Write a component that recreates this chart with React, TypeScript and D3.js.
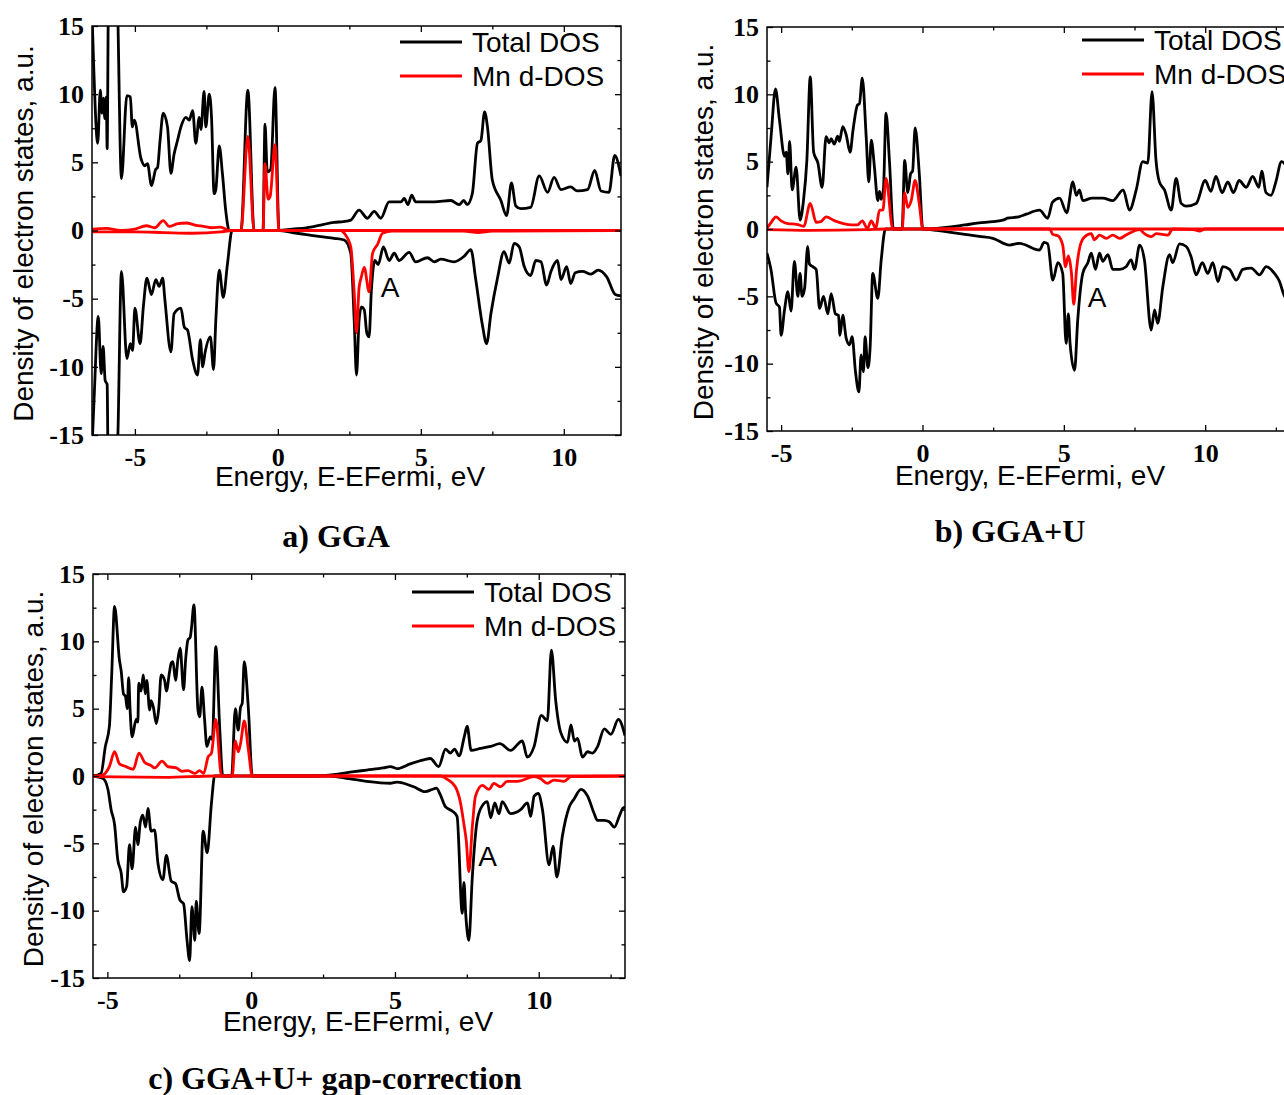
import React, { useRef, useEffect } from "react";
import * as d3 from "d3";

type Pt = [number, number];

// ---------- a) GGA ----------
const ggaTotalUp: Pt[] = [
  [-6.5, 16], [-6.44, 12], [-6.3, 6.4], [-6.21, 10.3], [-6.15, 8.6], [-6.1, 9.7], [-6.05, 8.2], [-6.0, 9.8], [-5.97, 6.0],
  [-5.92, 18], [-5.64, 18], [-5.47, 3.8], [-5.28, 9.9], [-5.16, 9.8], [-5.09, 7.6], [-5.02, 8.1], [-4.79, 5.3], [-4.65, 4.75],
  [-4.56, 4.9], [-4.42, 3.3], [-4.27, 4.5], [-4.21, 4.6], [-4.12, 6.6], [-4.01, 8.6], [-3.86, 7.6], [-3.74, 4.2], [-3.63, 5.6],
  [-3.51, 6.6], [-3.39, 7.6], [-3.22, 8.3], [-3.1, 8.1], [-2.98, 8.8], [-2.87, 6.4], [-2.75, 8.3], [-2.69, 7.4], [-2.58, 10.2],
  [-2.52, 7.6], [-2.4, 10.0], [-2.32, 8.3], [-2.23, 2.7], [-2.17, 3.0], [-2.05, 6.2], [-1.94, 4.2], [-1.82, 1.4], [-1.7, 0],
  [-1.29, 0], [-1.05, 10.3], [-0.83, 0], [-0.52, 0], [-0.45, 7.8], [-0.37, 4.3], [-0.25, 4.5], [-0.1, 10.5], [0.04, 0],
  [0.5, 0.1], [1.0, 0.2], [1.5, 0.4], [1.97, 0.6], [2.3, 0.65], [2.55, 0.76], [2.84, 1.5], [3.13, 0.9], [3.37, 1.4], [3.6, 0.9],
  [3.89, 2.1], [4.3, 2.1], [4.42, 2.35], [4.55, 1.9], [4.68, 2.6], [4.82, 2.1], [5.47, 2.1], [6.05, 2.2], [6.34, 1.9], [6.5, 2.2],
  [6.62, 1.9], [6.8, 2.7], [6.98, 6.4], [7.1, 6.6], [7.23, 8.7], [7.33, 7.6], [7.5, 3.7], [7.8, 2.2], [8.0, 1.1], [8.17, 3.5],
  [8.32, 1.8], [8.5, 1.6], [8.84, 1.7], [9.14, 4.0], [9.43, 2.8], [9.66, 3.9], [9.9, 3.0], [10.24, 3.2], [10.47, 2.9],
  [10.83, 3.0], [11.08, 4.4], [11.3, 2.9], [11.58, 2.8], [11.78, 5.5], [12.0, 4.0],
];
const ggaTotalDown: Pt[] = [
  [-6.5, -16], [-6.42, -12], [-6.28, -6.3], [-6.18, -10.5], [-6.11, -8.5], [-6.04, -11.0], [-5.97, -11.3], [-5.94, -16],
  [-5.62, -16], [-5.47, -3.0], [-5.28, -9.4], [-5.16, -8.3], [-5.08, -8.8], [-5.0, -5.7], [-4.82, -8.3], [-4.7, -5.5],
  [-4.58, -3.5], [-4.42, -4.7], [-4.27, -3.6], [-4.15, -4.1], [-4.03, -3.5], [-3.95, -5.1], [-3.74, -8.9], [-3.63, -6.1],
  [-3.39, -5.7], [-3.27, -7.1], [-3.16, -7.3], [-2.98, -9.5], [-2.81, -10.6], [-2.71, -8.0], [-2.63, -10.0], [-2.55, -9.0],
  [-2.36, -7.8], [-2.25, -10.2], [-2.17, -6.6], [-2.05, -2.9], [-1.91, -4.9], [-1.76, -2.4], [-1.6, 0], [0.05, 0],
  [0.5, -0.15], [1.0, -0.3], [1.5, -0.45], [1.97, -0.57], [2.32, -0.7], [2.55, -1.68], [2.67, -6.6], [2.75, -10.6],
  [2.84, -6.6], [2.92, -5.6], [3.02, -5.8], [3.11, -7.5], [3.19, -7.8], [3.27, -4.4], [3.39, -2.2], [3.51, -2.5], [3.69, -1.2],
  [3.89, -2.2], [4.07, -1.67], [4.24, -2.2], [4.59, -1.6], [4.82, -2.3], [5.23, -2.0], [5.47, -2.3], [5.7, -2.1], [6.16, -2.3],
  [6.51, -1.9], [6.75, -1.4], [6.92, -3.6], [7.15, -6.9], [7.3, -8.3], [7.45, -6.1], [7.68, -3.5], [7.91, -1.55], [8.09, -2.4],
  [8.26, -0.94], [8.44, -1.2], [8.61, -2.6], [8.84, -3.3], [9.02, -2.2], [9.2, -2.3], [9.4, -4.0], [9.55, -3.0], [9.78, -2.2],
  [9.9, -3.6], [10.1, -2.65], [10.24, -3.9], [10.4, -3.1], [10.65, -3.0], [10.95, -3.2], [11.2, -2.9], [11.5, -3.4],
  [11.8, -4.7], [12.0, -4.8],
];
const ggaMnUp: Pt[] = [
  [-6.5, 0.1], [-6.0, 0.15], [-5.5, 0.0], [-5.0, 0.1], [-4.6, 0.35], [-4.3, 0.2], [-4.01, 0.73], [-3.8, 0.3], [-3.5, 0.5],
  [-3.2, 0.55], [-2.9, 0.4], [-2.6, 0.3], [-2.3, 0.2], [-2.0, 0.25], [-1.7, 0], [-1.29, 0], [-1.05, 6.9], [-0.83, 0],
  [-0.52, 0], [-0.45, 4.9], [-0.34, 2.3], [-0.27, 2.5], [-0.1, 6.3], [0.04, 0], [12.0, 0],
];
const ggaMnDown: Pt[] = [
  [-6.5, -0.1], [-5.0, -0.1], [-4.0, -0.15], [-3.0, -0.2], [-2.0, -0.1], [-1.6, 0], [2.2, 0], [2.32, -0.2], [2.55, -1.2],
  [2.67, -4.6], [2.75, -7.5], [2.84, -4.2], [2.92, -3.4], [3.02, -2.7], [3.19, -4.5], [3.31, -1.7], [3.49, -1.0], [3.66, -0.2],
  [4.0, -0.05], [6.5, -0.05], [7.0, -0.15], [7.5, -0.05], [12.0, 0],
];

// ---------- b) GGA+U ----------
const ggauTotalUp: Pt[] = [
  [-5.5, 3.1], [-5.35, 7.0], [-5.2, 10.4], [-5.06, 8.1], [-4.88, 5.4], [-4.82, 5.7], [-4.76, 4.1], [-4.7, 6.5], [-4.61, 2.9],
  [-4.47, 4.6], [-4.33, 0.67], [-4.21, 2.1], [-4.09, 5.1], [-3.97, 11.3], [-3.85, 5.7], [-3.7, 4.9], [-3.55, 3.1],
  [-3.41, 6.85], [-3.3, 6.4], [-3.23, 6.7], [-3.12, 6.3], [-3.0, 6.9], [-2.94, 6.5], [-2.82, 7.6], [-2.7, 7.0], [-2.56, 5.7],
  [-2.46, 7.3], [-2.3, 9.2], [-2.23, 9.3], [-2.13, 11.2], [-1.99, 6.8], [-1.9, 3.5], [-1.81, 6.6], [-1.7, 4.6], [-1.58, 2.1],
  [-1.52, 2.8], [-1.46, 2.2], [-1.38, 3.0], [-1.29, 8.6], [-1.17, 5.1], [-1.03, 0], [-0.72, 0], [-0.63, 5.1], [-0.52, 2.7],
  [-0.42, 4.1], [-0.35, 4.3], [-0.26, 7.5], [-0.11, 4.0], [0.01, 0], [0.5, 0.05], [1.0, 0.15], [1.5, 0.3], [2.0, 0.45],
  [2.49, 0.54], [2.9, 0.7], [3.0, 0.8], [3.4, 0.9], [3.67, 1.1], [4.14, 1.4], [4.43, 0.8], [4.6, 2.0], [4.85, 2.3], [5.1, 1.2],
  [5.32, 3.5], [5.44, 2.5], [5.55, 2.9], [5.67, 2.1], [6.0, 2.3], [6.38, 2.3], [6.73, 2.1], [7.1, 2.9], [7.32, 1.4],
  [7.56, 2.9], [7.79, 5.0], [7.97, 4.9], [8.12, 10.2], [8.26, 5.1], [8.38, 3.5], [8.56, 2.9], [8.8, 1.4], [8.97, 3.76],
  [9.15, 1.9], [9.33, 1.7], [9.68, 1.9], [10.0, 3.6], [10.2, 2.8], [10.38, 3.9], [10.6, 2.7], [10.8, 3.5], [11.0, 2.7],
  [11.2, 3.6], [11.45, 3.1], [11.68, 3.9], [11.9, 3.1], [12.0, 4.3], [12.15, 2.7], [12.33, 2.5], [12.5, 3.5], [12.7, 5.0],
  [13.0, 4.2],
];
const ggauTotalDown: Pt[] = [
  [-5.5, -1.8], [-5.36, -3.0], [-5.18, -5.5], [-5.06, -5.8], [-5.0, -7.9], [-4.88, -6.0], [-4.76, -4.65], [-4.65, -6.1],
  [-4.53, -2.4], [-4.41, -5.0], [-4.33, -3.3], [-4.26, -5.0], [-4.17, -4.4], [-4.06, -1.3], [-4.0, -2.6], [-3.88, -2.8],
  [-3.76, -3.0], [-3.64, -5.9], [-3.5, -5.0], [-3.35, -6.3], [-3.23, -4.8], [-3.08, -6.3], [-2.97, -6.4], [-2.92, -7.9],
  [-2.82, -6.4], [-2.7, -8.1], [-2.58, -8.6], [-2.49, -8.0], [-2.37, -10.6], [-2.25, -12.1], [-2.17, -9.35], [-2.09, -10.6],
  [-2.03, -8.0], [-1.93, -10.3], [-1.85, -8.7], [-1.76, -3.3], [-1.58, -5.15], [-1.46, -2.3], [-1.31, 0], [-0.05, 0],
  [0.5, -0.1], [1.0, -0.25], [1.5, -0.4], [2.0, -0.55], [2.49, -0.69], [3.08, -1.19], [3.43, -1.06], [4.14, -1.56],
  [4.3, -1.0], [4.43, -1.1], [4.61, -3.8], [4.79, -2.5], [4.96, -3.3], [5.08, -8.5], [5.16, -6.3], [5.22, -8.5],
  [5.38, -10.5], [5.49, -6.8], [5.67, -3.3], [5.85, -2.5], [5.97, -1.8], [6.12, -3.0], [6.26, -1.8], [6.38, -2.4],
  [6.56, -1.9], [6.73, -3.0], [6.97, -3.0], [7.2, -2.8], [7.38, -2.3], [7.5, -3.0], [7.68, -1.2], [7.85, -2.3], [8.09, -7.5],
  [8.21, -6.0], [8.32, -7.0], [8.5, -4.3], [8.74, -1.9], [8.85, -2.5], [9.09, -1.1], [9.33, -1.3], [9.5, -2.05],
  [9.68, -3.4], [9.9, -2.5], [10.09, -3.3], [10.27, -2.5], [10.45, -3.9], [10.62, -2.8], [10.86, -3.0], [11.1, -3.8],
  [11.33, -3.0], [11.63, -2.9], [11.92, -3.4], [12.16, -2.8], [12.45, -3.3], [12.63, -3.9], [12.77, -4.8], [13.0, -5.6],
];
const ggauMnUp: Pt[] = [
  [-5.5, 0.05], [-5.35, 0.5], [-5.18, 0.9], [-5.0, 0.6], [-4.76, 0.4], [-4.45, 0.35], [-4.2, 0.2], [-3.97, 1.9],
  [-3.76, 0.5], [-3.6, 0.55], [-3.41, 0.9], [-3.1, 0.6], [-2.8, 0.4], [-2.5, 0.3], [-2.3, 0.3], [-2.13, 0.6], [-1.95, 0.05],
  [-1.81, 0.6], [-1.65, 0.05], [-1.52, 1.4], [-1.4, 1.4], [-1.29, 3.76], [-1.05, 0], [-0.72, 0], [-0.63, 2.7], [-0.52, 1.6],
  [-0.4, 2.1], [-0.26, 3.6], [-0.11, 1.8], [0.01, 0], [13.0, 0],
];
const ggauMnDown: Pt[] = [
  [-5.5, -0.05], [-4.0, -0.1], [-2.0, -0.05], [-1.3, 0], [4.5, 0], [4.61, -0.4], [4.79, -0.5], [4.96, -1.2], [5.06, -2.8],
  [5.16, -2.0], [5.27, -3.3], [5.35, -5.6], [5.45, -3.0], [5.57, -1.3], [5.73, -0.6], [5.97, -0.35], [6.08, -0.8],
  [6.26, -0.45], [6.5, -0.7], [6.73, -0.45], [6.97, -0.7], [7.2, -0.45], [7.68, -0.05], [7.85, -0.35], [8.09, -0.57],
  [8.27, -0.35], [8.68, -0.45], [8.85, 0], [9.6, -0.05], [9.8, -0.15], [10.0, 0], [13.0, 0],
];

// ---------- c) GGA+U + gap correction ----------
const gapTotalUp: Pt[] = [
  [-5.5, 0], [-5.22, 0.2], [-5.07, 2.2], [-4.93, 3.7], [-4.85, 7.5], [-4.75, 12.6], [-4.58, 8.6], [-4.52, 7.8], [-4.44, 6.1],
  [-4.37, 5.9], [-4.31, 5.0], [-4.26, 7.3], [-4.21, 4.9], [-4.14, 2.9], [-4.0, 4.2], [-3.94, 4.0], [-3.91, 6.9], [-3.83, 6.3],
  [-3.75, 7.5], [-3.68, 6.1], [-3.63, 7.1], [-3.53, 4.9], [-3.48, 5.6], [-3.4, 5.1], [-3.3, 3.9], [-3.21, 5.1], [-3.13, 7.5],
  [-3.01, 7.1], [-2.95, 6.3], [-2.84, 7.7], [-2.78, 8.4], [-2.72, 8.5], [-2.63, 7.1], [-2.55, 8.6], [-2.47, 9.5],
  [-2.35, 6.4], [-2.28, 8.6], [-2.2, 10.1], [-2.12, 10.3], [-2.08, 10.9], [-1.99, 12.7], [-1.85, 4.9], [-1.79, 4.4],
  [-1.71, 6.6], [-1.62, 4.2], [-1.54, 2.2], [-1.42, 2.9], [-1.35, 2.7], [-1.23, 9.6], [-1.09, 3.4], [-0.99, 0], [-0.68, 0],
  [-0.55, 5.0], [-0.45, 3.4], [-0.37, 5.1], [-0.31, 5.4], [-0.24, 8.5], [-0.1, 5.1], [0.04, 0], [1.7, 0], [2.4, 0.02],
  [2.86, 0.1], [3.5, 0.3], [4.02, 0.44], [4.6, 0.6], [4.84, 0.7], [5.07, 0.55], [5.53, 0.9], [6.0, 1.2], [6.23, 1.3],
  [6.52, 0.7], [6.76, 2.0], [6.93, 1.7], [7.07, 2.0], [7.23, 1.5], [7.42, 3.0], [7.51, 3.7], [7.65, 1.9], [7.98, 2.05],
  [8.33, 2.2], [8.65, 2.4], [9.02, 1.9], [9.43, 2.6], [9.6, 1.4], [9.84, 2.2], [10.09, 4.5], [10.3, 4.1], [10.44, 9.35],
  [10.59, 5.6], [10.77, 3.2], [11.0, 2.5], [11.12, 3.8], [11.24, 2.6], [11.35, 2.8], [11.52, 1.4], [11.7, 1.8],
  [11.87, 1.7], [12.05, 2.2], [12.28, 3.5], [12.51, 3.1], [12.77, 4.2], [13.0, 3.0],
];
const gapTotalDown: Pt[] = [
  [-5.5, 0], [-5.16, -0.17], [-4.98, -1.0], [-4.87, -2.5], [-4.75, -3.6], [-4.64, -6.2], [-4.52, -7.2], [-4.44, -8.6],
  [-4.33, -8.2], [-4.23, -5.1], [-4.14, -6.9], [-4.02, -3.8], [-3.94, -5.1], [-3.86, -3.5], [-3.77, -2.9], [-3.67, -3.8],
  [-3.59, -2.4], [-3.48, -4.1], [-3.36, -4.0], [-3.24, -6.5], [-3.07, -7.7], [-2.95, -5.9], [-2.78, -7.8], [-2.63, -8.0],
  [-2.48, -9.2], [-2.35, -9.5], [-2.23, -12.2], [-2.14, -13.7], [-2.06, -9.7], [-1.96, -12.2], [-1.91, -9.3],
  [-1.81, -11.7], [-1.67, -4.1], [-1.53, -5.7], [-1.38, -2.0], [-1.27, 0], [2.75, 0], [3.4, -0.2], [4.02, -0.4],
  [4.84, -0.54], [5.07, -0.45], [5.65, -0.8], [6.06, -1.16], [6.29, -1.0], [6.44, -0.9], [6.58, -1.4], [6.76, -2.3],
  [6.99, -2.6], [7.16, -3.0], [7.34, -10.2], [7.4, -7.9], [7.46, -10.2], [7.57, -12.2], [7.69, -7.5], [7.86, -3.3],
  [8.04, -2.2], [8.21, -1.9], [8.33, -3.1], [8.47, -2.0], [8.62, -2.8], [8.73, -1.9], [9.02, -2.8], [9.37, -2.5],
  [9.61, -2.0], [9.72, -3.0], [9.84, -1.5], [9.98, -1.3], [10.13, -2.5], [10.36, -6.6], [10.5, -5.2], [10.63, -7.5],
  [10.82, -4.5], [11.06, -2.3], [11.23, -1.7], [11.47, -1.0], [11.7, -1.5], [11.93, -2.8], [12.04, -3.3], [12.28, -3.3],
  [12.45, -3.4], [12.63, -3.8], [12.8, -3.0], [12.92, -2.4], [13.0, -2.3],
];
const gapMnUp: Pt[] = [
  [-5.5, 0], [-5.2, 0.05], [-4.93, 0.7], [-4.75, 1.8], [-4.58, 0.9], [-4.35, 0.7], [-4.1, 0.5], [-3.9, 1.7], [-3.7, 1.0],
  [-3.5, 0.8], [-3.35, 0.6], [-3.1, 1.1], [-2.9, 0.7], [-2.6, 0.6], [-2.4, 0.35], [-2.2, 0.4], [-1.95, 0.2], [-1.8, 0.4],
  [-1.65, 0.2], [-1.5, 1.4], [-1.38, 1.7], [-1.23, 4.2], [-1.03, 0], [-0.66, 0], [-0.55, 2.6], [-0.45, 1.8], [-0.37, 2.4],
  [-0.24, 4.1], [-0.1, 2.0], [0.04, 0], [13.0, 0],
];
const gapMnDown: Pt[] = [
  [-5.5, -0.05], [-3.0, -0.1], [-1.3, 0], [6.6, 0], [6.82, -0.25], [7.1, -0.8], [7.28, -2.0], [7.4, -3.6], [7.48, -4.8],
  [7.57, -7.1], [7.69, -3.8], [7.8, -1.5], [8.04, -0.7], [8.27, -1.0], [8.44, -0.55], [8.67, -0.8], [8.9, -0.4],
  [9.26, -0.4], [9.84, -0.05], [10.07, -0.2], [10.3, -0.55], [10.53, -0.3], [10.88, -0.4], [11.12, -0.05], [13.0, 0],
];

const legendLabels = ["Total DOS", "Mn d-DOS"];
const captions = ["a) GGA", "b) GGA+U", "c) GGA+U+ gap-correction"];
const peakLabel = "A";
const peakPositions: Pt[] = [[3.6, -4.9], [5.85, -5.8], [7.9, -6.7]];
const yLabel = "Density of electron states, a.u.";
const xLabel = "Energy, E-EFermi, eV";

const SANS = "'Liberation Sans', Arial, sans-serif";
const SERIF = "'Liberation Serif', 'Times New Roman', serif";

const panels = [
  {
    id: "a", xDomain: [-6.5, 12], left: 92, right: 621, top: 26, bottom: 435,
    series: [ggaTotalUp, ggaTotalDown, ggaMnUp, ggaMnDown], peak: peakPositions[0], caption: captions[0],
    legendX: 400, legendY: 42, yLabelX: 33, xLabelX: 350, xLabelY: 486, captionX: 336, captionY: 547,
  },
  {
    id: "b", xDomain: [-5.5, 13], left: 767, right: 1290, top: 27, bottom: 431,
    series: [ggauTotalUp, ggauTotalDown, ggauMnUp, ggauMnDown], peak: peakPositions[1], caption: captions[1],
    legendX: 1082, legendY: 40, yLabelX: 713, xLabelX: 1030, xLabelY: 485, captionX: 1010, captionY: 542,
  },
  {
    id: "c", xDomain: [-5.5, 13], left: 93, right: 625, top: 574, bottom: 978,
    series: [gapTotalUp, gapTotalDown, gapMnUp, gapMnDown], peak: peakPositions[2], caption: captions[2],
    legendX: 412, legendY: 592, yLabelX: 43, xLabelX: 358, xLabelY: 1031, captionX: 335, captionY: 1089,
  },
];

const colors = ["#000000", "#000000", "#ff0000", "#ff0000"];

function App() {
  const canvas = useRef<SVGSVGElement>(null);

  function drawChart() {
    const svg = d3.select(canvas.current);
    svg.selectAll("*").remove();

    panels.forEach((p) => {
      const x = d3.scaleLinear().domain(p.xDomain).range([p.left, p.right]);
      const y = d3.scaleLinear().domain([-15, 15]).range([p.bottom, p.top]);
      const g = svg.append("g");

      const clipId = `clip-${p.id}`;
      g.append("clipPath").attr("id", clipId).append("rect")
        .attr("x", p.left).attr("y", p.top)
        .attr("width", p.right - p.left).attr("height", p.bottom - p.top);

      const line = d3.line<Pt>().x((d) => x(d[0])).y((d) => y(d[1])).curve(d3.curveMonotoneX);
      const lines = g.append("g").attr("clip-path", `url(#${clipId})`);
      p.series.forEach((s, i) => {
        lines.append("path").datum(s).attr("d", line).attr("fill", "none")
          .attr("stroke", colors[i]).attr("stroke-width", 2.8).attr("stroke-linejoin", "round");
      });

      const [e0, e1] = p.xDomain;
      const xMajor = d3.range(Math.ceil(e0 / 5) * 5, e1 + 0.01, 5);
      const xMinor = d3.range(Math.ceil(e0 / 2.5) * 2.5, e1 + 0.01, 2.5).filter((v) => v % 5 !== 0);
      const yMajor = d3.range(-15, 15.01, 5);
      const yMinor = d3.range(-12.5, 12.6, 5);

      const styleAxis = (sel: any) => {
        sel.select(".domain").remove();
        sel.selectAll("line").attr("stroke", "#000").attr("stroke-width", 1.3);
      };

      g.append("g").attr("transform", `translate(0,${p.bottom})`)
        .call(d3.axisBottom(x).tickValues(xMajor).tickSize(-6).tickPadding(13).tickFormat((d: any) => String(d)))
        .call(styleAxis)
        .selectAll("text").attr("font-family", SERIF).attr("font-weight", "bold").attr("font-size", 26).attr("fill", "#000");
      g.append("g").attr("transform", `translate(0,${p.bottom})`)
        .call(d3.axisBottom(x).tickValues(xMinor).tickSize(-3.5).tickFormat(() => "")).call(styleAxis);
      g.append("g").attr("transform", `translate(0,${p.top})`)
        .call(d3.axisTop(x).tickValues(xMajor).tickSize(-6).tickFormat(() => "")).call(styleAxis);
      g.append("g").attr("transform", `translate(0,${p.top})`)
        .call(d3.axisTop(x).tickValues(xMinor).tickSize(-3.5).tickFormat(() => "")).call(styleAxis);

      g.append("g").attr("transform", `translate(${p.left},0)`)
        .call(d3.axisLeft(y).tickValues(yMajor).tickSize(-6).tickPadding(8).tickFormat((d: any) => String(d)))
        .call(styleAxis)
        .selectAll("text").attr("font-family", SERIF).attr("font-weight", "bold").attr("font-size", 26).attr("fill", "#000");
      g.append("g").attr("transform", `translate(${p.left},0)`)
        .call(d3.axisLeft(y).tickValues(yMinor).tickSize(-3.5).tickFormat(() => "")).call(styleAxis);
      g.append("g").attr("transform", `translate(${p.right},0)`)
        .call(d3.axisRight(y).tickValues(yMajor).tickSize(-6).tickFormat(() => "")).call(styleAxis);
      g.append("g").attr("transform", `translate(${p.right},0)`)
        .call(d3.axisRight(y).tickValues(yMinor).tickSize(-3.5).tickFormat(() => "")).call(styleAxis);

      g.append("rect").attr("x", p.left).attr("y", p.top)
        .attr("width", p.right - p.left).attr("height", p.bottom - p.top)
        .attr("fill", "none").attr("stroke", "#000").attr("stroke-width", 1.5);

      // legend
      legendLabels.forEach((lab, i) => {
        const ly = p.legendY + i * 34;
        g.append("line").attr("x1", p.legendX).attr("x2", p.legendX + 62).attr("y1", ly).attr("y2", ly)
          .attr("stroke", colors[i * 2]).attr("stroke-width", 2.8);
        g.append("text").attr("x", p.legendX + 72).attr("y", ly + 10).text(lab)
          .attr("font-family", SANS).attr("font-size", 28).attr("fill", "#000");
      });

      g.append("text").attr("x", x(p.peak[0])).attr("y", y(p.peak[1])).text(peakLabel)
        .attr("font-family", SANS).attr("font-size", 28).attr("fill", "#000");

      g.append("text")
        .attr("transform", `translate(${p.yLabelX},${(p.top + p.bottom) / 2 + 3}) rotate(-90)`)
        .attr("text-anchor", "middle").text(yLabel)
        .attr("font-family", SANS).attr("font-size", 28).attr("fill", "#000");

      g.append("text").attr("x", p.xLabelX).attr("y", p.xLabelY).attr("text-anchor", "middle").text(xLabel)
        .attr("font-family", SANS).attr("font-size", 28).attr("fill", "#000");

      g.append("text").attr("x", p.captionX).attr("y", p.captionY).attr("text-anchor", "middle").text(p.caption)
        .attr("font-family", SERIF).attr("font-weight", "bold").attr("font-size", 32).attr("fill", "#000");
    });
  }

  useEffect(() => {
    drawChart();
  }, []);

  return (
    <svg ref={canvas} width={1284} height={1095}
      style={{ position: "absolute", left: 0, top: 0, background: "#fff", overflow: "hidden" }}></svg>
  );
}

export default App;
